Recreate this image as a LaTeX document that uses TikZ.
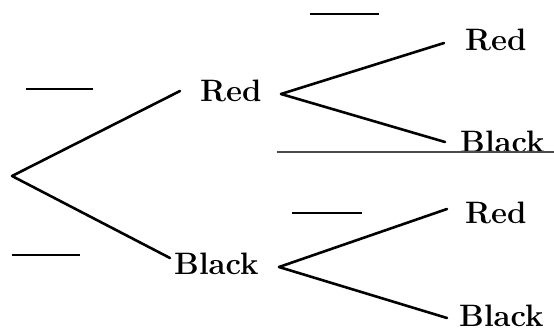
\documentclass[tikz,border=0pt]{standalone}
\usepackage{fontspec}
\usepackage{tikz}

\begin{document}
\begin{tikzpicture}[x=1pt, y=-1pt, every node/.style={font=\fontsize{31}{37}\selectfont\bfseries, inner sep=1pt, anchor=west},
  branch/.style={line width=2.6pt, line cap=round}, blank/.style={line width=2.2pt}]
\useasboundingbox (0,0) rectangle (554,333);
\coordinate (root) at (12,176);
\node (red1) at (199,91) {Red};
\node (black1) at (173,264) {Black};
\node (red2) at (464,40) {Red};
\node (black2) at (459,142) {Black};
\node (red3) at (464,213) {Red};
\node (black3) at (458,316) {Black};
\coordinate (split1) at (281,94);
\coordinate (split2) at (279,267);

\draw[branch] (root) -- ([xshift=-19pt]red1.west);
\draw[branch] (root) -- ([xshift=-3pt,yshift=6pt]black1.west);
\draw[branch] (split1) -- ([xshift=-20pt,yshift=-3pt]red2.west);
\draw[branch] (split1) -- ([xshift=-14pt]black2.west);
\draw[branch] (split2) -- ([xshift=-17pt,yshift=4pt]red3.west);
\draw[branch] (split2) -- ([xshift=-11pt,yshift=-2pt]black3.west);

% blanks for the probabilities
\draw[blank] (26,89) -- (93,89);
\draw[blank] (12,255) -- (80,255);
\draw[blank] (310,14) -- (379,14);
\draw[blank] (292,213) -- (362,213);
\draw[line width=1.2pt, black!70] (277,152) -- (554,152);
\end{tikzpicture}
\end{document}
